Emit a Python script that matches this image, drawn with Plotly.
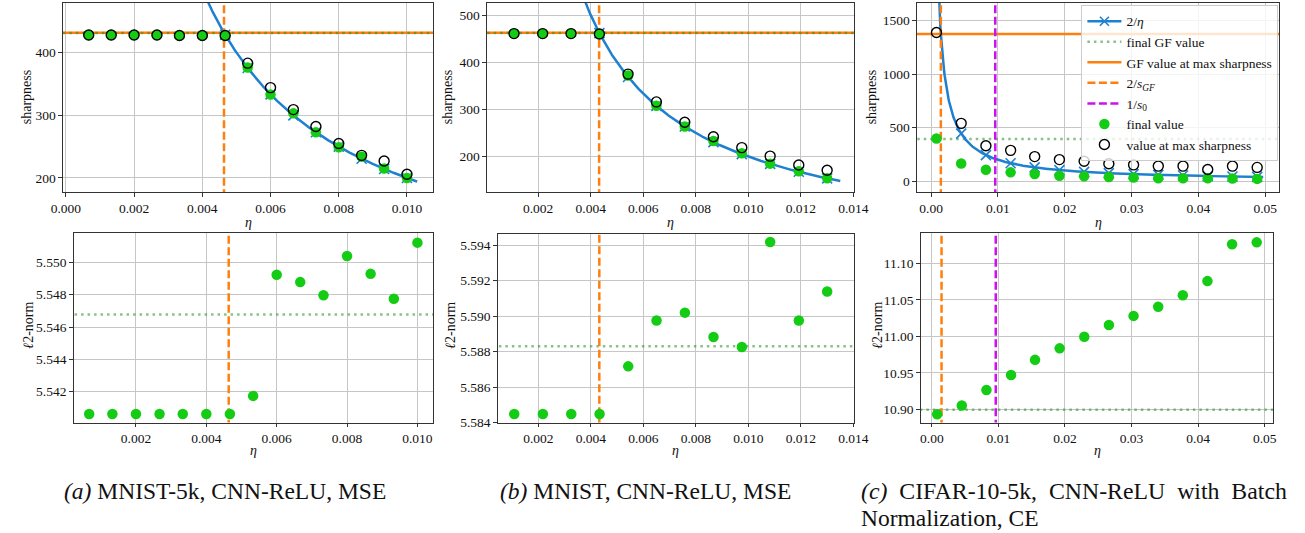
import numpy as np
import plotly.graph_objects as go

W, H = 1305, 533
FONT = "Liberation Serif, Times New Roman, DejaVu Serif, serif"

BLUE = "#1f80d0"
ORANGE = "#ff7f0e"
GF_GREEN = "rgba(40,140,40,0.55)"
DOT_GREEN = "#14cc14"
MAGENTA = "#cc11ee"
GRID = "#c6c6c6"
SPINE = "#333333"

# ---------------- (a) MNIST-5k, CNN-ReLU, MSE ----------------
eta_a = [0.00067, 0.00133, 0.0020, 0.00267, 0.00333, 0.0040, 0.00467, 0.00533,
         0.0060, 0.00667, 0.00733, 0.0080, 0.00867, 0.00933, 0.0100]
sharp_final_a = [428, 428, 428, 428, 427, 427, 427, 376, 333, 303, 273, 249, 234, 215, 200]
sharp_max_a = [428, 428, 428, 428, 427, 427, 427, 383, 344, 309, 282, 255, 236, 227, 206]
norm_final_a = [5.54062, 5.54062, 5.54062, 5.54062, 5.54062, 5.54062, 5.54062, 5.54174,
                5.54923, 5.54878, 5.54797, 5.55039, 5.54929, 5.54775, 5.55122]
gf_final_sharp_a = 431.0
gf_max_sharp_a = 431.4
gf_final_norm_a = 5.54677

# ---------------- (b) MNIST, CNN-ReLU, MSE ----------------
eta_b = [0.00108, 0.00217, 0.00325, 0.00433, 0.00542, 0.0065, 0.00758, 0.00867,
         0.00975, 0.01083, 0.01192, 0.0130]
sharp_final_b = [461, 461, 461, 460, 372, 308, 264, 233, 207, 185, 169, 154]
sharp_max_b = [461, 461, 461, 460, 375, 316, 273, 242, 219, 201, 182, 171]
norm_final_b = [5.58448, 5.58448, 5.58448, 5.58448, 5.58717, 5.58976, 5.59020, 5.58883,
                5.58826, 5.59418, 5.58976, 5.59139]
gf_final_sharp_b = 462.5
gf_max_sharp_b = 463.0
gf_final_norm_b = 5.58831

# ---------------- (c) CIFAR-10-5k, CNN-ReLU + BN, CE ----------------
eta_c = [0.0008, 0.0045, 0.0082, 0.0119, 0.0155, 0.0192, 0.0229, 0.0266, 0.0303,
         0.0340, 0.0377, 0.0414, 0.0451, 0.0488]
sharp_final_c = [399, 166, 107, 83, 67, 52, 46, 40, 34, 28, 28, 28, 25, 22]
sharp_max_c = [1387, 540, 331, 288, 230, 202, 187, 163, 153, 141, 141, 110, 141, 129]
norm_final_c = [10.8933, 10.9054, 10.9265, 10.9472, 10.9679, 10.9836, 10.9996, 11.0155,
                11.0281, 11.0406, 11.0564, 11.0757, 11.1261, 11.1288]
gf_final_sharp_c = 393.0
gf_max_sharp_c = 1374.0
s0_c = 104.2
gf_final_norm_c = 10.8997

NB = "&nbsp;"
captions = ["<i>(a)</i> MNIST-5k, CNN-ReLU, MSE",
            "<i>(b)</i> MNIST, CNN-ReLU, MSE",
            "<i>(c)</i> " + NB + "CIFAR-10-5k, " + NB + "CNN-ReLU " + NB + "with " + NB + "Batch",
            "Normalization, CE"]

panels = [
    dict(eta=eta_a, final=sharp_final_a, smax=sharp_max_a, norm=norm_final_a,
         gf_final=gf_final_sharp_a, gf_max=gf_max_sharp_a, gf_norm=gf_final_norm_a,
         s0=None, curve=(0.0004, 0.0103)),
    dict(eta=eta_b, final=sharp_final_b, smax=sharp_max_b, norm=norm_final_b,
         gf_final=gf_final_sharp_b, gf_max=gf_max_sharp_b, gf_norm=gf_final_norm_b,
         s0=None, curve=(0.0007, 0.0135)),
    dict(eta=eta_c, final=sharp_final_c, smax=sharp_max_c, norm=norm_final_c,
         gf_final=gf_final_sharp_c, gf_max=gf_max_sharp_c, gf_norm=gf_final_norm_c,
         s0=s0_c, curve=(0.0003, 0.0497)),
]

# axis boxes in pixels: (left, right, top, bottom), ranges, ticks
axes = {
    1: dict(box=(52, 430, 3, 195), xr=(-0.000086, 0.010766), yr=(177.5, 479),
            xt=(0.0, 0.002, ".3f"), yt=(0, 100, "d")),
    2: dict(box=(485, 860, 3, 195), xr=(0.00005, 0.01403), yr=(124.7, 526),
            xt=(0.0, 0.002, ".3f"), yt=(0, 100, "d")),
    3: dict(box=(924, 1294, 3, 195), xr=(-0.00213, 0.0521), yr=(-101, 1663),
            xt=(0.0, 0.01, ".2f"), yt=(0, 500, "d")),
    4: dict(box=(63, 430, 237, 429), xr=(0.00023, 0.010446), yr=(5.54009, 5.55179),
            xt=(0.0, 0.002, ".3f"), yt=(5.542, 0.002, ".3f")),
    5: dict(box=(496, 860, 238, 429), xr=(0.00045, 0.01403), yr=(5.584, 5.59461),
            xt=(0.0, 0.002, ".3f"), yt=(5.584, 0.002, ".3f")),
    6: dict(box=(928, 1288, 237, 429), xr=(-0.00166, 0.0513), yr=(10.882, 11.141),
            xt=(0.0, 0.01, ".2f"), yt=(10.9, 0.05, ".2f")),
}

fig = go.Figure()


def ref(i):
    return ("x" if i == 1 else f"x{i}"), ("y" if i == 1 else f"y{i}")


def hline(i, v, color, dash, width=2.5):
    xa, ya = ref(i)
    xr = axes[i]["xr"]
    fig.add_trace(go.Scatter(x=[xr[0] - 1, xr[1] + 1], y=[v, v], mode="lines",
                             line=dict(color=color, width=width, dash=dash),
                             xaxis=xa, yaxis=ya, showlegend=False, hoverinfo="skip"))


def vline(i, v, color, dash, width=2.5):
    xa, ya = ref(i)
    yr = axes[i]["yr"]
    span = yr[1] - yr[0]
    fig.add_trace(go.Scatter(x=[v, v], y=[yr[0] - span, yr[1] + span], mode="lines",
                             line=dict(color=color, width=width, dash=dash),
                             xaxis=xa, yaxis=ya, showlegend=False, hoverinfo="skip"))


DASH = "8px,3.5px"
DOT = "2.5px,4px"

for k, p in enumerate(panels):
    top, bot = k + 1, k + 4
    xa, ya = ref(top)
    eta = np.array(p["eta"])
    # sharpness panel
    hline(top, p["gf_max"], ORANGE, "solid")
    hline(top, p["gf_final"], GF_GREEN, DOT)
    grid = np.linspace(p["curve"][0], p["curve"][1], 600)
    fig.add_trace(go.Scatter(x=grid, y=2.0 / grid, mode="lines",
                             line=dict(color=BLUE, width=2.5),
                             xaxis=xa, yaxis=ya, showlegend=False, hoverinfo="skip"))
    fig.add_trace(go.Scatter(x=eta, y=2.0 / eta, mode="markers",
                             marker=dict(symbol="x-thin", size=10, color=BLUE,
                                         line=dict(color=BLUE, width=1.6)),
                             xaxis=xa, yaxis=ya, showlegend=False, hoverinfo="skip"))
    vline(top, 2.0 / p["gf_max"], ORANGE, DASH)
    if p["s0"] is not None:
        vline(top, 1.0 / p["s0"], MAGENTA, DASH)
    fig.add_trace(go.Scatter(x=eta, y=p["final"], mode="markers",
                             marker=dict(symbol="circle", size=10.5, color=DOT_GREEN,
                                         line=dict(width=0)),
                             xaxis=xa, yaxis=ya, showlegend=False))
    fig.add_trace(go.Scatter(x=eta, y=p["smax"], mode="markers",
                             marker=dict(symbol="circle-open", size=10, color="black",
                                         line=dict(color="black", width=1.4)),
                             xaxis=xa, yaxis=ya, showlegend=False))
    # norm panel
    xb, yb = ref(bot)
    hline(bot, p["gf_norm"], GF_GREEN, DOT)
    vline(bot, 2.0 / p["gf_max"], ORANGE, DASH)
    if p["s0"] is not None:
        vline(bot, 1.0 / p["s0"], MAGENTA, DASH)
    fig.add_trace(go.Scatter(x=eta, y=p["norm"], mode="markers",
                             marker=dict(symbol="circle", size=10.5, color=DOT_GREEN,
                                         line=dict(width=0)),
                             xaxis=xb, yaxis=yb, showlegend=False))

# legend entries (drawn only in the legend box)
legend_items = [
    ("2/<i>η</i>", dict(mode="lines+markers", line=dict(color=BLUE, width=2.5),
                         marker=dict(symbol="x-thin", size=9, color=BLUE,
                                     line=dict(color=BLUE, width=1.6)))),
    ("final GF value", dict(mode="lines", line=dict(color=GF_GREEN, width=2.5, dash=DOT))),
    ("GF value at max sharpness", dict(mode="lines", line=dict(color=ORANGE, width=2.5))),
    ("2/<i>s<sub>GF</sub></i>", dict(mode="lines", line=dict(color=ORANGE, width=2.5, dash=DASH))),
    ("1/<i>s</i><sub>0</sub>", dict(mode="lines", line=dict(color=MAGENTA, width=2.5, dash=DASH))),
    ("final value", dict(mode="markers", marker=dict(symbol="circle", size=10.5,
                                                     color=DOT_GREEN, line=dict(width=0)))),
    ("value at max sharpness", dict(mode="markers",
                                    marker=dict(symbol="circle-open", size=10, color="black",
                                                line=dict(color="black", width=1.4)))),
]
for rank, (name, style) in enumerate(legend_items):
    fig.add_trace(go.Scatter(x=[None], y=[None], name=name, xaxis="x3", yaxis="y3",
                             showlegend=True, legendrank=rank + 1, **style))

layout = dict(
    width=W, height=H, margin=dict(l=0, r=0, t=0, b=0),
    paper_bgcolor="white", plot_bgcolor="white",
    font=dict(family=FONT, size=13.5, color="#111111"),
    legend=dict(x=1092 / W, y=1 - 5 / H, xanchor="left", yanchor="top",
                bgcolor="rgba(255,255,255,0.8)", bordercolor="#cccccc", borderwidth=1,
                font=dict(family=FONT, size=13.5, color="#111111"),
                itemwidth=34, tracegroupgap=0),
    annotations=[],
)

for i, a in axes.items():
    l, r, t, b = a["box"]
    xkey = "xaxis" if i == 1 else f"xaxis{i}"
    ykey = "yaxis" if i == 1 else f"yaxis{i}"
    xa, ya = ref(i)
    common = dict(showline=True, linecolor=SPINE, linewidth=1, mirror=True,
                  showgrid=True, gridcolor=GRID, gridwidth=1, zeroline=False,
                  ticks="outside", ticklen=3.5, tickwidth=1, tickcolor=SPINE,
                  tickfont=dict(family=FONT, size=13.5, color="#111111"))
    layout[xkey] = dict(domain=[l / W, r / W], range=list(a["xr"]), anchor=ya,
                        tick0=a["xt"][0], dtick=a["xt"][1], tickformat=a["xt"][2], **common)
    layout[ykey] = dict(domain=[1 - b / H, 1 - t / H], range=list(a["yr"]), anchor=xa,
                        tick0=a["yt"][0], dtick=a["yt"][1], tickformat=a["yt"][2], **common)

ann = layout["annotations"]


def text(x, y, s, size=14, angle=0, xanchor="center"):
    ann.append(dict(x=x / W, y=1 - y / H, xref="paper", yref="paper", text=s,
                    showarrow=False, textangle=angle, xanchor=xanchor, yanchor="middle",
                    font=dict(family=FONT, size=size, color="#111111")))


for i, a in axes.items():
    l, r, t, b = a["box"]
    text((l + r) / 2, b + 31 if i <= 3 else b + 28, "<i>η</i>")

for x in (15, 445, 878):
    text(x, 99, "sharpness", angle=-90)
for x in (16, 447, 883):
    text(x, 330, "<i>ℓ</i>2-norm", angle=-90)

text(217, 498, captions[0], size=23.5)
text(647, 498, captions[1], size=23.5)
text(865, 498, captions[2], size=23.8, xanchor="left")
text(865, 526, captions[3], size=23.5, xanchor="left")

fig.update_layout(**layout)
fig.write_html("out.html")
